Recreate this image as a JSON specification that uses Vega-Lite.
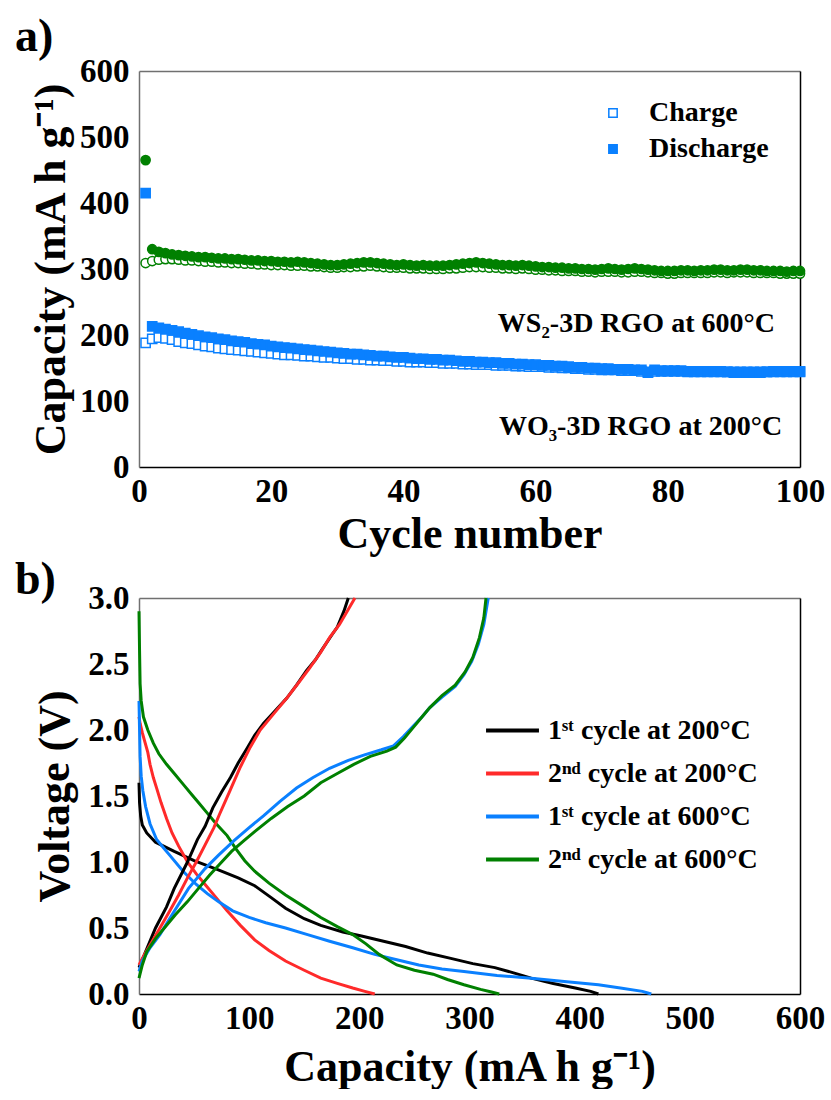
{
"$schema": "https://vega.github.io/schema/vega-lite/v6.json",
"background": "white",
"padding": {"left": 15, "top": 14, "right": 0, "bottom": 0},
"autosize": {"type": "pad"},
"spacing": 131,
"bounds": "flush",
"resolve": {"scale": {"color": "independent", "fill": "independent"}, "legend": {"color": "independent", "fill": "independent"}},
"config": {
 "font": "Liberation Serif",
 "view": {"stroke": null},
 "axis": {"labelFont": "Liberation Serif", "labelFontWeight": "bold", "labelFontSize": 33, "labelColor": "black", "titleFont": "Liberation Serif", "titleFontWeight": "bold", "titleFontSize": 44, "titleColor": "black", "domainColor": "#707070", "domainWidth": 1.5, "tickColor": "black", "tickWidth": 1.5, "grid": false, "tickSize": 0, "labelPadding": 10, "labelFlush": false, "labelOverlap": false, "labelBound": false}
},
"datasets": {
 "a": [
{"cycle":1,"Charge":188,"Discharge":415,"gc":309,"gd":465},
{"cycle":2,"Charge":194,"Discharge":213,"gc":312,"gd":330},
{"cycle":3,"Charge":196,"Discharge":211,"gc":314,"gd":326},
{"cycle":4,"Charge":195,"Discharge":209,"gc":315,"gd":324},
{"cycle":5,"Charge":193,"Discharge":207,"gc":315,"gd":322},
{"cycle":6,"Charge":190,"Discharge":205,"gc":314,"gd":321},
{"cycle":7,"Charge":188,"Discharge":203,"gc":313,"gd":320},
{"cycle":8,"Charge":187,"Discharge":201,"gc":313,"gd":319},
{"cycle":9,"Charge":185,"Discharge":199,"gc":312,"gd":318},
{"cycle":10,"Charge":183,"Discharge":197,"gc":311,"gd":318},
{"cycle":11,"Charge":182,"Discharge":196,"gc":311,"gd":317},
{"cycle":12,"Charge":180,"Discharge":194,"gc":310,"gd":316},
{"cycle":13,"Charge":179,"Discharge":193,"gc":310,"gd":316},
{"cycle":14,"Charge":178,"Discharge":191,"gc":309,"gd":315},
{"cycle":15,"Charge":177,"Discharge":190,"gc":309,"gd":315},
{"cycle":16,"Charge":176,"Discharge":189,"gc":308,"gd":314},
{"cycle":17,"Charge":175,"Discharge":187,"gc":308,"gd":313},
{"cycle":18,"Charge":174,"Discharge":186,"gc":307,"gd":313},
{"cycle":19,"Charge":173,"Discharge":185,"gc":307,"gd":312},
{"cycle":20,"Charge":172,"Discharge":183,"gc":306,"gd":312},
{"cycle":21,"Charge":171,"Discharge":182,"gc":306,"gd":311},
{"cycle":22,"Charge":170,"Discharge":181,"gc":306,"gd":311},
{"cycle":23,"Charge":170,"Discharge":180,"gc":305,"gd":310},
{"cycle":24,"Charge":169,"Discharge":179,"gc":305,"gd":311},
{"cycle":25,"Charge":168,"Discharge":178,"gc":305,"gd":310},
{"cycle":26,"Charge":168,"Discharge":177,"gc":304,"gd":309},
{"cycle":27,"Charge":167,"Discharge":176,"gc":304,"gd":308},
{"cycle":28,"Charge":166,"Discharge":175,"gc":303,"gd":307},
{"cycle":29,"Charge":166,"Discharge":174,"gc":302,"gd":306},
{"cycle":30,"Charge":165,"Discharge":173,"gc":302,"gd":306},
{"cycle":31,"Charge":164,"Discharge":172,"gc":303,"gd":307},
{"cycle":32,"Charge":164,"Discharge":171,"gc":303,"gd":308},
{"cycle":33,"Charge":163,"Discharge":171,"gc":304,"gd":309},
{"cycle":34,"Charge":163,"Discharge":170,"gc":304,"gd":310},
{"cycle":35,"Charge":162,"Discharge":169,"gc":305,"gd":310},
{"cycle":36,"Charge":162,"Discharge":168,"gc":304,"gd":309},
{"cycle":37,"Charge":161,"Discharge":168,"gc":303,"gd":308},
{"cycle":38,"Charge":161,"Discharge":167,"gc":302,"gd":307},
{"cycle":39,"Charge":160,"Discharge":166,"gc":302,"gd":306},
{"cycle":40,"Charge":160,"Discharge":166,"gc":302,"gd":307},
{"cycle":41,"Charge":159,"Discharge":165,"gc":301,"gd":306},
{"cycle":42,"Charge":159,"Discharge":164,"gc":301,"gd":305},
{"cycle":43,"Charge":159,"Discharge":164,"gc":301,"gd":306},
{"cycle":44,"Charge":158,"Discharge":163,"gc":300,"gd":305},
{"cycle":45,"Charge":158,"Discharge":163,"gc":300,"gd":305},
{"cycle":46,"Charge":157,"Discharge":162,"gc":300,"gd":305},
{"cycle":47,"Charge":157,"Discharge":162,"gc":301,"gd":306},
{"cycle":48,"Charge":157,"Discharge":161,"gc":301,"gd":307},
{"cycle":49,"Charge":156,"Discharge":160,"gc":302,"gd":308},
{"cycle":50,"Charge":156,"Discharge":160,"gc":303,"gd":309},
{"cycle":51,"Charge":155,"Discharge":159,"gc":303,"gd":310},
{"cycle":52,"Charge":155,"Discharge":159,"gc":303,"gd":309},
{"cycle":53,"Charge":155,"Discharge":158,"gc":302,"gd":308},
{"cycle":54,"Charge":154,"Discharge":158,"gc":302,"gd":307},
{"cycle":55,"Charge":154,"Discharge":157,"gc":301,"gd":306},
{"cycle":56,"Charge":154,"Discharge":157,"gc":301,"gd":306},
{"cycle":57,"Charge":153,"Discharge":156,"gc":300,"gd":305},
{"cycle":58,"Charge":153,"Discharge":156,"gc":301,"gd":306},
{"cycle":59,"Charge":152,"Discharge":155,"gc":300,"gd":305},
{"cycle":60,"Charge":152,"Discharge":155,"gc":299,"gd":304},
{"cycle":61,"Charge":152,"Discharge":154,"gc":299,"gd":303},
{"cycle":62,"Charge":151,"Discharge":154,"gc":298,"gd":303},
{"cycle":63,"Charge":151,"Discharge":153,"gc":298,"gd":302},
{"cycle":64,"Charge":150,"Discharge":153,"gc":297,"gd":302},
{"cycle":65,"Charge":150,"Discharge":152,"gc":297,"gd":301},
{"cycle":66,"Charge":149,"Discharge":151,"gc":297,"gd":301},
{"cycle":67,"Charge":149,"Discharge":151,"gc":296,"gd":300},
{"cycle":68,"Charge":148,"Discharge":150,"gc":296,"gd":300},
{"cycle":69,"Charge":148,"Discharge":150,"gc":295,"gd":299},
{"cycle":70,"Charge":147,"Discharge":149,"gc":296,"gd":300},
{"cycle":71,"Charge":147,"Discharge":149,"gc":296,"gd":301},
{"cycle":72,"Charge":147,"Discharge":148,"gc":296,"gd":300},
{"cycle":73,"Charge":146,"Discharge":148,"gc":295,"gd":299},
{"cycle":74,"Charge":146,"Discharge":148,"gc":295,"gd":300},
{"cycle":75,"Charge":146,"Discharge":147,"gc":296,"gd":301},
{"cycle":76,"Charge":145,"Discharge":147,"gc":296,"gd":300},
{"cycle":77,"Charge":143,"Discharge":144,"gc":295,"gd":299},
{"cycle":78,"Charge":145,"Discharge":147,"gc":294,"gd":298},
{"cycle":79,"Charge":145,"Discharge":146,"gc":294,"gd":297},
{"cycle":80,"Charge":145,"Discharge":146,"gc":293,"gd":297},
{"cycle":81,"Charge":145,"Discharge":146,"gc":293,"gd":297},
{"cycle":82,"Charge":145,"Discharge":146,"gc":294,"gd":298},
{"cycle":83,"Charge":144,"Discharge":145,"gc":294,"gd":298},
{"cycle":84,"Charge":144,"Discharge":145,"gc":294,"gd":297},
{"cycle":85,"Charge":144,"Discharge":145,"gc":294,"gd":298},
{"cycle":86,"Charge":144,"Discharge":145,"gc":294,"gd":298},
{"cycle":87,"Charge":144,"Discharge":145,"gc":295,"gd":299},
{"cycle":88,"Charge":144,"Discharge":145,"gc":295,"gd":299},
{"cycle":89,"Charge":144,"Discharge":144,"gc":294,"gd":298},
{"cycle":90,"Charge":143,"Discharge":144,"gc":295,"gd":298},
{"cycle":91,"Charge":143,"Discharge":144,"gc":295,"gd":299},
{"cycle":92,"Charge":143,"Discharge":144,"gc":295,"gd":299},
{"cycle":93,"Charge":143,"Discharge":144,"gc":294,"gd":298},
{"cycle":94,"Charge":143,"Discharge":144,"gc":294,"gd":298},
{"cycle":95,"Charge":144,"Discharge":144,"gc":294,"gd":297},
{"cycle":96,"Charge":144,"Discharge":145,"gc":294,"gd":297},
{"cycle":97,"Charge":144,"Discharge":145,"gc":293,"gd":297},
{"cycle":98,"Charge":144,"Discharge":145,"gc":293,"gd":296},
{"cycle":99,"Charge":144,"Discharge":145,"gc":293,"gd":297},
{"cycle":100,"Charge":144,"Discharge":145,"gc":293,"gd":297}
 ],
 "b": [
{"s":"1ˢᵗ cycle at 200°C","b":"d","x":0,"y":1.6},
{"s":"1ˢᵗ cycle at 200°C","b":"d","x":0.5,"y":1.45},
{"s":"1ˢᵗ cycle at 200°C","b":"d","x":1.5,"y":1.35},
{"s":"1ˢᵗ cycle at 200°C","b":"d","x":3,"y":1.28},
{"s":"1ˢᵗ cycle at 200°C","b":"d","x":7,"y":1.22},
{"s":"1ˢᵗ cycle at 200°C","b":"d","x":15,"y":1.15},
{"s":"1ˢᵗ cycle at 200°C","b":"d","x":32,"y":1.08},
{"s":"1ˢᵗ cycle at 200°C","b":"d","x":50,"y":1.01},
{"s":"1ˢᵗ cycle at 200°C","b":"d","x":72,"y":0.94},
{"s":"1ˢᵗ cycle at 200°C","b":"d","x":90,"y":0.88},
{"s":"1ˢᵗ cycle at 200°C","b":"d","x":105,"y":0.82},
{"s":"1ˢᵗ cycle at 200°C","b":"d","x":120,"y":0.73},
{"s":"1ˢᵗ cycle at 200°C","b":"d","x":133,"y":0.65},
{"s":"1ˢᵗ cycle at 200°C","b":"d","x":150,"y":0.57},
{"s":"1ˢᵗ cycle at 200°C","b":"d","x":165,"y":0.52},
{"s":"1ˢᵗ cycle at 200°C","b":"d","x":185,"y":0.47},
{"s":"1ˢᵗ cycle at 200°C","b":"d","x":202,"y":0.44},
{"s":"1ˢᵗ cycle at 200°C","b":"d","x":222,"y":0.40},
{"s":"1ˢᵗ cycle at 200°C","b":"d","x":242,"y":0.36},
{"s":"1ˢᵗ cycle at 200°C","b":"d","x":262,"y":0.31},
{"s":"1ˢᵗ cycle at 200°C","b":"d","x":283,"y":0.27},
{"s":"1ˢᵗ cycle at 200°C","b":"d","x":303,"y":0.23},
{"s":"1ˢᵗ cycle at 200°C","b":"d","x":323,"y":0.20},
{"s":"1ˢᵗ cycle at 200°C","b":"d","x":340,"y":0.16},
{"s":"1ˢᵗ cycle at 200°C","b":"d","x":356,"y":0.12},
{"s":"1ˢᵗ cycle at 200°C","b":"d","x":376,"y":0.08},
{"s":"1ˢᵗ cycle at 200°C","b":"d","x":396,"y":0.045},
{"s":"1ˢᵗ cycle at 200°C","b":"d","x":410,"y":0.02},
{"s":"1ˢᵗ cycle at 200°C","b":"d","x":417,"y":0},
{"s":"1ˢᵗ cycle at 200°C","b":"c","x":0,"y":0.2},
{"s":"1ˢᵗ cycle at 200°C","b":"c","x":5,"y":0.3},
{"s":"1ˢᵗ cycle at 200°C","b":"c","x":15,"y":0.5},
{"s":"1ˢᵗ cycle at 200°C","b":"c","x":25,"y":0.66},
{"s":"1ˢᵗ cycle at 200°C","b":"c","x":32,"y":0.8},
{"s":"1ˢᵗ cycle at 200°C","b":"c","x":44,"y":1.0},
{"s":"1ˢᵗ cycle at 200°C","b":"c","x":53,"y":1.17},
{"s":"1ˢᵗ cycle at 200°C","b":"c","x":60,"y":1.27},
{"s":"1ˢᵗ cycle at 200°C","b":"c","x":67,"y":1.41},
{"s":"1ˢᵗ cycle at 200°C","b":"c","x":75,"y":1.53},
{"s":"1ˢᵗ cycle at 200°C","b":"c","x":83,"y":1.64},
{"s":"1ˢᵗ cycle at 200°C","b":"c","x":90,"y":1.75},
{"s":"1ˢᵗ cycle at 200°C","b":"c","x":98,"y":1.86},
{"s":"1ˢᵗ cycle at 200°C","b":"c","x":105,"y":1.96},
{"s":"1ˢᵗ cycle at 200°C","b":"c","x":113,"y":2.05},
{"s":"1ˢᵗ cycle at 200°C","b":"c","x":123,"y":2.14},
{"s":"1ˢᵗ cycle at 200°C","b":"c","x":134,"y":2.24},
{"s":"1ˢᵗ cycle at 200°C","b":"c","x":143,"y":2.34},
{"s":"1ˢᵗ cycle at 200°C","b":"c","x":152,"y":2.45},
{"s":"1ˢᵗ cycle at 200°C","b":"c","x":160,"y":2.53},
{"s":"1ˢᵗ cycle at 200°C","b":"c","x":167,"y":2.62},
{"s":"1ˢᵗ cycle at 200°C","b":"c","x":175,"y":2.72},
{"s":"1ˢᵗ cycle at 200°C","b":"c","x":180,"y":2.78},
{"s":"1ˢᵗ cycle at 200°C","b":"c","x":186,"y":2.9},
{"s":"1ˢᵗ cycle at 200°C","b":"c","x":190,"y":3.0},
{"s":"2ⁿᵈ cycle at 200°C","b":"d","x":0,"y":2.1},
{"s":"2ⁿᵈ cycle at 200°C","b":"d","x":1,"y":2.05},
{"s":"2ⁿᵈ cycle at 200°C","b":"d","x":3,"y":1.98},
{"s":"2ⁿᵈ cycle at 200°C","b":"d","x":5,"y":1.92},
{"s":"2ⁿᵈ cycle at 200°C","b":"d","x":8,"y":1.83},
{"s":"2ⁿᵈ cycle at 200°C","b":"d","x":10,"y":1.74},
{"s":"2ⁿᵈ cycle at 200°C","b":"d","x":13,"y":1.64},
{"s":"2ⁿᵈ cycle at 200°C","b":"d","x":16,"y":1.56},
{"s":"2ⁿᵈ cycle at 200°C","b":"d","x":20,"y":1.45},
{"s":"2ⁿᵈ cycle at 200°C","b":"d","x":25,"y":1.33},
{"s":"2ⁿᵈ cycle at 200°C","b":"d","x":30,"y":1.22},
{"s":"2ⁿᵈ cycle at 200°C","b":"d","x":36,"y":1.12},
{"s":"2ⁿᵈ cycle at 200°C","b":"d","x":44,"y":1.0},
{"s":"2ⁿᵈ cycle at 200°C","b":"d","x":52,"y":0.91},
{"s":"2ⁿᵈ cycle at 200°C","b":"d","x":60,"y":0.83},
{"s":"2ⁿᵈ cycle at 200°C","b":"d","x":70,"y":0.73},
{"s":"2ⁿᵈ cycle at 200°C","b":"d","x":80,"y":0.63},
{"s":"2ⁿᵈ cycle at 200°C","b":"d","x":92,"y":0.52},
{"s":"2ⁿᵈ cycle at 200°C","b":"d","x":105,"y":0.41},
{"s":"2ⁿᵈ cycle at 200°C","b":"d","x":118,"y":0.33},
{"s":"2ⁿᵈ cycle at 200°C","b":"d","x":133,"y":0.25},
{"s":"2ⁿᵈ cycle at 200°C","b":"d","x":150,"y":0.18},
{"s":"2ⁿᵈ cycle at 200°C","b":"d","x":165,"y":0.12},
{"s":"2ⁿᵈ cycle at 200°C","b":"d","x":180,"y":0.08},
{"s":"2ⁿᵈ cycle at 200°C","b":"d","x":194,"y":0.045},
{"s":"2ⁿᵈ cycle at 200°C","b":"d","x":205,"y":0.02},
{"s":"2ⁿᵈ cycle at 200°C","b":"d","x":214,"y":0},
{"s":"2ⁿᵈ cycle at 200°C","b":"c","x":0,"y":0.22},
{"s":"2ⁿᵈ cycle at 200°C","b":"c","x":5,"y":0.3},
{"s":"2ⁿᵈ cycle at 200°C","b":"c","x":12,"y":0.4},
{"s":"2ⁿᵈ cycle at 200°C","b":"c","x":19,"y":0.5},
{"s":"2ⁿᵈ cycle at 200°C","b":"c","x":28,"y":0.63},
{"s":"2ⁿᵈ cycle at 200°C","b":"c","x":36,"y":0.75},
{"s":"2ⁿᵈ cycle at 200°C","b":"c","x":44,"y":0.88},
{"s":"2ⁿᵈ cycle at 200°C","b":"c","x":52,"y":1.0},
{"s":"2ⁿᵈ cycle at 200°C","b":"c","x":60,"y":1.13},
{"s":"2ⁿᵈ cycle at 200°C","b":"c","x":68,"y":1.26},
{"s":"2ⁿᵈ cycle at 200°C","b":"c","x":73,"y":1.36},
{"s":"2ⁿᵈ cycle at 200°C","b":"c","x":82,"y":1.53},
{"s":"2ⁿᵈ cycle at 200°C","b":"c","x":92,"y":1.72},
{"s":"2ⁿᵈ cycle at 200°C","b":"c","x":101,"y":1.87},
{"s":"2ⁿᵈ cycle at 200°C","b":"c","x":110,"y":2.0},
{"s":"2ⁿᵈ cycle at 200°C","b":"c","x":122,"y":2.12},
{"s":"2ⁿᵈ cycle at 200°C","b":"c","x":134,"y":2.24},
{"s":"2ⁿᵈ cycle at 200°C","b":"c","x":145,"y":2.36},
{"s":"2ⁿᵈ cycle at 200°C","b":"c","x":155,"y":2.47},
{"s":"2ⁿᵈ cycle at 200°C","b":"c","x":165,"y":2.59},
{"s":"2ⁿᵈ cycle at 200°C","b":"c","x":173,"y":2.7},
{"s":"2ⁿᵈ cycle at 200°C","b":"c","x":182,"y":2.8},
{"s":"2ⁿᵈ cycle at 200°C","b":"c","x":189,"y":2.9},
{"s":"2ⁿᵈ cycle at 200°C","b":"c","x":196,"y":3.0},
{"s":"1ˢᵗ cycle at 600°C","b":"d","x":0,"y":2.22},
{"s":"1ˢᵗ cycle at 600°C","b":"d","x":0.5,"y":2.0},
{"s":"1ˢᵗ cycle at 600°C","b":"d","x":1,"y":1.8},
{"s":"1ˢᵗ cycle at 600°C","b":"d","x":2,"y":1.65},
{"s":"1ˢᵗ cycle at 600°C","b":"d","x":3.5,"y":1.54},
{"s":"1ˢᵗ cycle at 600°C","b":"d","x":6,"y":1.42},
{"s":"1ˢᵗ cycle at 600°C","b":"d","x":10,"y":1.29},
{"s":"1ˢᵗ cycle at 600°C","b":"d","x":16,"y":1.17},
{"s":"1ˢᵗ cycle at 600°C","b":"d","x":22,"y":1.11},
{"s":"1ˢᵗ cycle at 600°C","b":"d","x":28,"y":1.05},
{"s":"1ˢᵗ cycle at 600°C","b":"d","x":40,"y":0.93},
{"s":"1ˢᵗ cycle at 600°C","b":"d","x":52,"y":0.83},
{"s":"1ˢᵗ cycle at 600°C","b":"d","x":62,"y":0.76},
{"s":"1ˢᵗ cycle at 600°C","b":"d","x":72,"y":0.70},
{"s":"1ˢᵗ cycle at 600°C","b":"d","x":85,"y":0.63},
{"s":"1ˢᵗ cycle at 600°C","b":"d","x":100,"y":0.58},
{"s":"1ˢᵗ cycle at 600°C","b":"d","x":115,"y":0.54},
{"s":"1ˢᵗ cycle at 600°C","b":"d","x":133,"y":0.50},
{"s":"1ˢᵗ cycle at 600°C","b":"d","x":153,"y":0.45},
{"s":"1ˢᵗ cycle at 600°C","b":"d","x":173,"y":0.40},
{"s":"1ˢᵗ cycle at 600°C","b":"d","x":194,"y":0.35},
{"s":"1ˢᵗ cycle at 600°C","b":"d","x":214,"y":0.30},
{"s":"1ˢᵗ cycle at 600°C","b":"d","x":234,"y":0.26},
{"s":"1ˢᵗ cycle at 600°C","b":"d","x":254,"y":0.22},
{"s":"1ˢᵗ cycle at 600°C","b":"d","x":275,"y":0.19},
{"s":"1ˢᵗ cycle at 600°C","b":"d","x":295,"y":0.17},
{"s":"1ˢᵗ cycle at 600°C","b":"d","x":325,"y":0.14},
{"s":"1ˢᵗ cycle at 600°C","b":"d","x":356,"y":0.12},
{"s":"1ˢᵗ cycle at 600°C","b":"d","x":386,"y":0.095},
{"s":"1ˢᵗ cycle at 600°C","b":"d","x":417,"y":0.07},
{"s":"1ˢᵗ cycle at 600°C","b":"d","x":437,"y":0.045},
{"s":"1ˢᵗ cycle at 600°C","b":"d","x":457,"y":0.02},
{"s":"1ˢᵗ cycle at 600°C","b":"d","x":465,"y":0},
{"s":"1ˢᵗ cycle at 600°C","b":"c","x":0,"y":0.17},
{"s":"1ˢᵗ cycle at 600°C","b":"c","x":3,"y":0.25},
{"s":"1ˢᵗ cycle at 600°C","b":"c","x":10,"y":0.35},
{"s":"1ˢᵗ cycle at 600°C","b":"c","x":19,"y":0.45},
{"s":"1ˢᵗ cycle at 600°C","b":"c","x":30,"y":0.6},
{"s":"1ˢᵗ cycle at 600°C","b":"c","x":45,"y":0.8},
{"s":"1ˢᵗ cycle at 600°C","b":"c","x":60,"y":0.95},
{"s":"1ˢᵗ cycle at 600°C","b":"c","x":72,"y":1.05},
{"s":"1ˢᵗ cycle at 600°C","b":"c","x":86,"y":1.16},
{"s":"1ˢᵗ cycle at 600°C","b":"c","x":100,"y":1.26},
{"s":"1ˢᵗ cycle at 600°C","b":"c","x":113,"y":1.35},
{"s":"1ˢᵗ cycle at 600°C","b":"c","x":128,"y":1.46},
{"s":"1ˢᵗ cycle at 600°C","b":"c","x":143,"y":1.56},
{"s":"1ˢᵗ cycle at 600°C","b":"c","x":158,"y":1.64},
{"s":"1ˢᵗ cycle at 600°C","b":"c","x":173,"y":1.71},
{"s":"1ˢᵗ cycle at 600°C","b":"c","x":190,"y":1.77},
{"s":"1ˢᵗ cycle at 600°C","b":"c","x":204,"y":1.81},
{"s":"1ˢᵗ cycle at 600°C","b":"c","x":220,"y":1.85},
{"s":"1ˢᵗ cycle at 600°C","b":"c","x":231,"y":1.88},
{"s":"1ˢᵗ cycle at 600°C","b":"c","x":240,"y":1.95},
{"s":"1ˢᵗ cycle at 600°C","b":"c","x":249,"y":2.03},
{"s":"1ˢᵗ cycle at 600°C","b":"c","x":257,"y":2.1},
{"s":"1ˢᵗ cycle at 600°C","b":"c","x":264,"y":2.17},
{"s":"1ˢᵗ cycle at 600°C","b":"c","x":275,"y":2.25},
{"s":"1ˢᵗ cycle at 600°C","b":"c","x":287,"y":2.33},
{"s":"1ˢᵗ cycle at 600°C","b":"c","x":295,"y":2.42},
{"s":"1ˢᵗ cycle at 600°C","b":"c","x":302,"y":2.52},
{"s":"1ˢᵗ cycle at 600°C","b":"c","x":308,"y":2.65},
{"s":"1ˢᵗ cycle at 600°C","b":"c","x":313,"y":2.8},
{"s":"1ˢᵗ cycle at 600°C","b":"c","x":317,"y":3.0},
{"s":"2ⁿᵈ cycle at 600°C","b":"d","x":0,"y":2.9},
{"s":"2ⁿᵈ cycle at 600°C","b":"d","x":0.5,"y":2.6},
{"s":"2ⁿᵈ cycle at 600°C","b":"d","x":1,"y":2.35},
{"s":"2ⁿᵈ cycle at 600°C","b":"d","x":2,"y":2.22},
{"s":"2ⁿᵈ cycle at 600°C","b":"d","x":4,"y":2.1},
{"s":"2ⁿᵈ cycle at 600°C","b":"d","x":8,"y":2.0},
{"s":"2ⁿᵈ cycle at 600°C","b":"d","x":13,"y":1.9},
{"s":"2ⁿᵈ cycle at 600°C","b":"d","x":18,"y":1.82},
{"s":"2ⁿᵈ cycle at 600°C","b":"d","x":25,"y":1.74},
{"s":"2ⁿᵈ cycle at 600°C","b":"d","x":32,"y":1.67},
{"s":"2ⁿᵈ cycle at 600°C","b":"d","x":40,"y":1.59},
{"s":"2ⁿᵈ cycle at 600°C","b":"d","x":48,"y":1.51},
{"s":"2ⁿᵈ cycle at 600°C","b":"d","x":53,"y":1.46},
{"s":"2ⁿᵈ cycle at 600°C","b":"d","x":62,"y":1.37},
{"s":"2ⁿᵈ cycle at 600°C","b":"d","x":70,"y":1.29},
{"s":"2ⁿᵈ cycle at 600°C","b":"d","x":80,"y":1.2},
{"s":"2ⁿᵈ cycle at 600°C","b":"d","x":88,"y":1.1},
{"s":"2ⁿᵈ cycle at 600°C","b":"d","x":96,"y":1.01},
{"s":"2ⁿᵈ cycle at 600°C","b":"d","x":105,"y":0.93},
{"s":"2ⁿᵈ cycle at 600°C","b":"d","x":118,"y":0.84},
{"s":"2ⁿᵈ cycle at 600°C","b":"d","x":133,"y":0.75},
{"s":"2ⁿᵈ cycle at 600°C","b":"d","x":150,"y":0.66},
{"s":"2ⁿᵈ cycle at 600°C","b":"d","x":165,"y":0.58},
{"s":"2ⁿᵈ cycle at 600°C","b":"d","x":180,"y":0.51},
{"s":"2ⁿᵈ cycle at 600°C","b":"d","x":194,"y":0.45},
{"s":"2ⁿᵈ cycle at 600°C","b":"d","x":206,"y":0.38},
{"s":"2ⁿᵈ cycle at 600°C","b":"d","x":218,"y":0.30},
{"s":"2ⁿᵈ cycle at 600°C","b":"d","x":226,"y":0.26},
{"s":"2ⁿᵈ cycle at 600°C","b":"d","x":234,"y":0.22},
{"s":"2ⁿᵈ cycle at 600°C","b":"d","x":250,"y":0.18},
{"s":"2ⁿᵈ cycle at 600°C","b":"d","x":267,"y":0.15},
{"s":"2ⁿᵈ cycle at 600°C","b":"d","x":280,"y":0.11},
{"s":"2ⁿᵈ cycle at 600°C","b":"d","x":295,"y":0.07},
{"s":"2ⁿᵈ cycle at 600°C","b":"d","x":310,"y":0.035},
{"s":"2ⁿᵈ cycle at 600°C","b":"d","x":320,"y":0.015},
{"s":"2ⁿᵈ cycle at 600°C","b":"d","x":327,"y":0},
{"s":"2ⁿᵈ cycle at 600°C","b":"c","x":0,"y":0.12},
{"s":"2ⁿᵈ cycle at 600°C","b":"c","x":3,"y":0.22},
{"s":"2ⁿᵈ cycle at 600°C","b":"c","x":7,"y":0.32},
{"s":"2ⁿᵈ cycle at 600°C","b":"c","x":15,"y":0.42},
{"s":"2ⁿᵈ cycle at 600°C","b":"c","x":23,"y":0.5},
{"s":"2ⁿᵈ cycle at 600°C","b":"c","x":33,"y":0.6},
{"s":"2ⁿᵈ cycle at 600°C","b":"c","x":44,"y":0.7},
{"s":"2ⁿᵈ cycle at 600°C","b":"c","x":54,"y":0.8},
{"s":"2ⁿᵈ cycle at 600°C","b":"c","x":64,"y":0.9},
{"s":"2ⁿᵈ cycle at 600°C","b":"c","x":74,"y":0.99},
{"s":"2ⁿᵈ cycle at 600°C","b":"c","x":84,"y":1.08},
{"s":"2ⁿᵈ cycle at 600°C","b":"c","x":95,"y":1.16},
{"s":"2ⁿᵈ cycle at 600°C","b":"c","x":105,"y":1.23},
{"s":"2ⁿᵈ cycle at 600°C","b":"c","x":120,"y":1.33},
{"s":"2ⁿᵈ cycle at 600°C","b":"c","x":135,"y":1.42},
{"s":"2ⁿᵈ cycle at 600°C","b":"c","x":150,"y":1.5},
{"s":"2ⁿᵈ cycle at 600°C","b":"c","x":165,"y":1.6},
{"s":"2ⁿᵈ cycle at 600°C","b":"c","x":180,"y":1.67},
{"s":"2ⁿᵈ cycle at 600°C","b":"c","x":195,"y":1.74},
{"s":"2ⁿᵈ cycle at 600°C","b":"c","x":210,"y":1.8},
{"s":"2ⁿᵈ cycle at 600°C","b":"c","x":225,"y":1.84},
{"s":"2ⁿᵈ cycle at 600°C","b":"c","x":233,"y":1.87},
{"s":"2ⁿᵈ cycle at 600°C","b":"c","x":241,"y":1.94},
{"s":"2ⁿᵈ cycle at 600°C","b":"c","x":249,"y":2.02},
{"s":"2ⁿᵈ cycle at 600°C","b":"c","x":257,"y":2.1},
{"s":"2ⁿᵈ cycle at 600°C","b":"c","x":264,"y":2.17},
{"s":"2ⁿᵈ cycle at 600°C","b":"c","x":275,"y":2.26},
{"s":"2ⁿᵈ cycle at 600°C","b":"c","x":287,"y":2.34},
{"s":"2ⁿᵈ cycle at 600°C","b":"c","x":296,"y":2.44},
{"s":"2ⁿᵈ cycle at 600°C","b":"c","x":303,"y":2.55},
{"s":"2ⁿᵈ cycle at 600°C","b":"c","x":309,"y":2.7},
{"s":"2ⁿᵈ cycle at 600°C","b":"c","x":313,"y":2.85},
{"s":"2ⁿᵈ cycle at 600°C","b":"c","x":315,"y":3.0}
 ]
},
"vconcat": [
 {
  "width": 661, "height": 396,
  "title": {"text": "a)", "anchor": "start", "frame": "group", "font": "Liberation Serif", "fontSize": 46, "fontWeight": "bold", "color": "black", "baseline": "alphabetic", "offset": 0, "dx": -124, "dy": 42},
  "data": {"name": "a"},
  "layer": [
   {
    "transform": [{"fold": ["Charge", "Discharge"], "as": ["type", "cap"]}],
    "mark": {"type": "point", "shape": "square", "size": 85, "strokeWidth": 1.5, "stroke": "#0a80ff", "filled": true, "opacity": 1},
    "encoding": {
     "x": {"field": "cycle", "type": "quantitative", "scale": {"domain": [0, 100], "nice": false},
       "axis": {"orient": "bottom", "title": "Cycle number", "titlePadding": 4, "labelPadding": 8, "domainColor": "black", "values": [0,10,20,30,40,50,60,70,80,90,100], "labelExpr": "datum.value % 20 === 0 ? datum.label : ''", "encode": {"ticks": {"update": {"y2": {"signal": "datum.value % 20 === 0 ? -8 : -4"}}}}}},
     "y": {"field": "cap", "type": "quantitative", "scale": {"domain": [0, 600], "nice": false},
       "axis": {"orient": "left", "title": "Capacity (mA h g⁻¹)", "titlePadding": 6, "labelPadding": 10, "values": [0,50,100,150,200,250,300,350,400,450,500,550,600], "labelExpr": "datum.value % 100 === 0 ? datum.label : ''", "encode": {"ticks": {"update": {"x2": {"signal": "datum.value % 100 === 0 ? 8 : 4"}}}}}},
     "fill": {"field": "type", "type": "nominal", "scale": {"domain": ["Charge", "Discharge"], "range": ["white", "#0a80ff"]},
       "legend": {"orient": "none", "legendX": 460, "legendY": 28, "title": null, "labelFont": "Liberation Serif", "labelFontWeight": "bold", "labelFontSize": 28, "labelColor": "black", "symbolType": "square", "symbolSize": 70, "symbolStrokeColor": "#0a80ff", "symbolStrokeWidth": 1.5, "labelOffset": 22, "rowPadding": 8, "padding": 0, "labelLimit": 400}},
     "order": {"field": "type"}
    }
   },
   {
    "transform": [{"fold": ["gc", "gd"], "as": ["type", "cap"]}],
    "mark": {"type": "point", "shape": "circle", "size": 85, "strokeWidth": 1.5, "stroke": "#008000", "filled": true, "opacity": 1},
    "encoding": {
     "x": {"field": "cycle", "type": "quantitative",
       "axis": {"orient": "top", "title": null, "labels": false, "values": [0,10,20,30,40,50,60,70,80,90,100], "encode": {"ticks": {"update": {"y2": {"signal": "datum.value % 20 === 0 ? 8 : 4"}}}}}},
     "y": {"field": "cap", "type": "quantitative",
       "axis": {"orient": "right", "title": null, "labels": false, "domainColor": "black", "values": [0,50,100,150,200,250,300,350,400,450,500,550,600], "encode": {"ticks": {"update": {"x2": {"signal": "datum.value % 100 === 0 ? -8 : -4"}}}}}},
     "fill": {"condition": {"test": "datum.type === 'gd'", "value": "#008000"}, "value": "white"},
     "order": {"field": "type"}
    }
   },
   {
    "data": {"values": [{}]},
    "mark": {"type": "text", "text": "WS₂-3D RGO at 600°C", "align": "right", "baseline": "alphabetic", "font": "Liberation Serif", "fontSize": 28, "fontWeight": "bold", "color": "black"},
    "encoding": {"x": {"datum": 96.2, "type": "quantitative", "axis": null}, "y": {"datum": 204, "type": "quantitative", "axis": null}}
   },
   {
    "data": {"values": [{}]},
    "mark": {"type": "text", "text": "WO₃-3D RGO at 200°C", "align": "right", "baseline": "alphabetic", "font": "Liberation Serif", "fontSize": 28, "fontWeight": "bold", "color": "black"},
    "encoding": {"x": {"datum": 97.3, "type": "quantitative", "axis": null}, "y": {"datum": 48, "type": "quantitative", "axis": null}}
   }
  ],
  "resolve": {"axis": {"x": "independent", "y": "independent"}}
 },
 {
  "width": 661, "height": 396,
  "title": {"text": "b)", "anchor": "start", "frame": "group", "font": "Liberation Serif", "fontSize": 46, "fontWeight": "bold", "color": "black", "baseline": "alphabetic", "offset": 0, "dx": -124, "dy": 58},
  "data": {"name": "b"},
  "layer": [
   {
    "transform": [{"filter": "datum.b === 'd'"}],
    "mark": {"type": "line", "strokeWidth": 3},
    "encoding": {
     "x": {"field": "x", "type": "quantitative", "scale": {"domain": [0, 600], "nice": false},
       "axis": {"orient": "bottom", "title": "Capacity (mA h g⁻¹)", "titlePadding": 10, "labelPadding": 8, "domainColor": "black", "values": [0,50,100,150,200,250,300,350,400,450,500,550,600], "labelExpr": "datum.value % 100 === 0 ? datum.label : ''", "encode": {"ticks": {"update": {"y2": {"signal": "datum.value % 100 === 0 ? -8 : -4"}}}}}},
     "y": {"field": "y", "type": "quantitative", "scale": {"domain": [0, 3], "nice": false},
       "axis": {"orient": "left", "title": "Voltage (V)", "titlePadding": 10, "labelPadding": 10, "values": [0,0.25,0.5,0.75,1,1.25,1.5,1.75,2,2.25,2.5,2.75,3], "labelExpr": "datum.value % 0.5 === 0 ? format(datum.value, '.1f') : ''", "encode": {"ticks": {"update": {"x2": {"signal": "datum.value % 0.5 === 0 ? 8 : 4"}}}}}},
     "color": {"field": "s", "type": "nominal", "scale": {"domain": ["1ˢᵗ cycle at 200°C", "2ⁿᵈ cycle at 200°C", "1ˢᵗ cycle at 600°C", "2ⁿᵈ cycle at 600°C"], "range": ["#000000", "#ff2a2a", "#0a80ff", "#008000"]},
       "legend": {"orient": "none", "legendX": 345, "legendY": 104, "title": null, "labelFont": "Liberation Serif", "labelFontWeight": "bold", "labelFontSize": 28, "labelColor": "black", "symbolType": "stroke", "symbolSize": 2800, "symbolStrokeWidth": 4, "labelOffset": 7, "rowPadding": -14, "padding": 0, "labelLimit": 400}}
    }
   },
   {
    "transform": [{"filter": "datum.b === 'c'"}],
    "mark": {"type": "line", "strokeWidth": 3},
    "encoding": {
     "x": {"field": "x", "type": "quantitative",
       "axis": {"orient": "top", "title": null, "labels": false, "values": [0,50,100,150,200,250,300,350,400,450,500,550,600], "encode": {"ticks": {"update": {"y2": {"signal": "datum.value % 100 === 0 ? 8 : 4"}}}}}},
     "y": {"field": "y", "type": "quantitative",
       "axis": {"orient": "right", "title": null, "labels": false, "domainColor": "black", "values": [0,0.25,0.5,0.75,1,1.25,1.5,1.75,2,2.25,2.5,2.75,3], "encode": {"ticks": {"update": {"x2": {"signal": "datum.value % 0.5 === 0 ? -8 : -4"}}}}}},
     "color": {"field": "s", "type": "nominal"}
    }
   }
  ],
  "resolve": {"axis": {"x": "independent", "y": "independent"}}
 }
]
}
